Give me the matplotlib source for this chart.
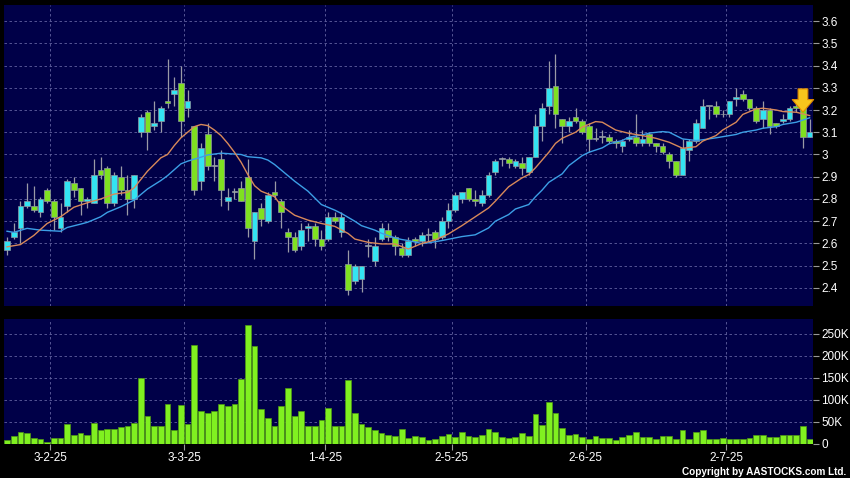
import matplotlib
matplotlib.use("Agg")
import matplotlib.pyplot as plt
import numpy as np

plt.rcParams["font.family"] = ["Liberation Sans", "DejaVu Sans"]

# OHLC per trading day (index 0..120)
opens = [2.57, 2.63, 2.67, 2.77, 2.77, 2.74, 2.84, 2.79, 2.67, 2.77,
         2.87, 2.85, 2.79, 2.78, 2.93, 2.94, 2.78, 2.90, 2.84, 2.80,
         3.10, 3.19, 3.13, 3.15, 3.24, 3.27, 3.32, 3.21, 3.13, 2.88,
         3.09, 2.95, 2.98, 2.79, 2.83, 2.85, 2.90, 2.61, 2.76, 2.70,
         2.83, 2.79, 2.65, 2.63, 2.59, 2.67, 2.68, 2.62, 2.62, 2.72,
         2.65, 2.51, 2.43, 2.44, 2.59, 2.52, 2.62, 2.66, 2.63, 2.58,
         2.55, 2.62, 2.61, 2.64, 2.65, 2.63, 2.70, 2.75, 2.80, 2.85,
         2.80, 2.78, 2.82, 2.92, 2.98, 2.98, 2.95, 2.96, 2.92, 2.99,
         3.13, 3.22, 3.31, 3.16, 3.13, 3.17, 3.15, 3.13, 3.07, 3.08,
         3.08, 3.06, 3.04, 3.07, 3.08, 3.05, 3.09, 3.05, 3.04, 3.00,
         2.97, 2.91, 3.02, 3.06, 3.12, 3.22, 3.22, 3.18, 3.18, 3.25,
         3.27, 3.25, 3.21, 3.16, 3.20, 3.14, 3.15, 3.16, 3.22, 3.21,
         3.08]
highs = [2.63, 2.69, 2.79, 2.87, 2.86, 2.81, 2.85, 2.80, 2.78, 2.89,
         2.90, 2.85, 2.81, 2.98, 2.99, 2.95, 2.92, 2.95, 2.91, 2.91,
         3.18, 3.20, 3.24, 3.22, 3.43, 3.35, 3.40, 3.29, 3.13, 3.05,
         3.14, 2.99, 3.02, 2.85, 2.85, 2.88, 2.98, 2.74, 2.78, 2.83,
         2.88, 2.80, 2.67, 2.65, 2.69, 2.69, 2.69, 2.66, 2.74, 2.74,
         2.74, 2.57, 2.51, 2.50, 2.62, 2.63, 2.69, 2.69, 2.64, 2.60,
         2.63, 2.63, 2.65, 2.67, 2.66, 2.72, 2.78, 2.83, 2.83, 2.85,
         2.84, 2.84, 2.92, 2.98, 2.99, 2.99, 2.98, 2.99, 2.99, 3.18,
         3.23, 3.42, 3.45, 3.16, 3.17, 3.21, 3.16, 3.14, 3.12, 3.11,
         3.09, 3.07, 3.07, 3.11, 3.18, 3.11, 3.10, 3.05, 3.05, 3.01,
         2.97, 3.07, 3.07, 3.16, 3.25, 3.22, 3.24, 3.20, 3.24, 3.30,
         3.29, 3.25, 3.22, 3.24, 3.21, 3.14, 3.18, 3.22, 3.25, 3.22,
         3.16]
lows = [2.55, 2.62, 2.60, 2.76, 2.74, 2.72, 2.78, 2.66, 2.65, 2.74,
        2.81, 2.73, 2.76, 2.78, 2.89, 2.76, 2.77, 2.82, 2.73, 2.76,
        3.08, 3.02, 3.11, 3.10, 3.21, 3.22, 3.08, 3.17, 2.82, 2.84,
        2.93, 2.88, 2.77, 2.75, 2.80, 2.79, 2.63, 2.53, 2.68, 2.69,
        2.80, 2.67, 2.56, 2.56, 2.57, 2.61, 2.59, 2.57, 2.61, 2.69,
        2.63, 2.37, 2.42, 2.38, 2.54, 2.50, 2.61, 2.61, 2.55, 2.54,
        2.54, 2.59, 2.59, 2.61, 2.58, 2.62, 2.67, 2.74, 2.78, 2.79,
        2.77, 2.77, 2.81, 2.91, 2.95, 2.94, 2.94, 2.91, 2.91, 2.99,
        3.06, 3.18, 3.12, 3.05, 3.10, 3.14, 3.09, 3.01, 3.06, 3.05,
        3.05, 3.03, 3.01, 3.06, 3.04, 3.04, 3.04, 3.01, 3.00, 2.94,
        2.90, 2.91, 2.97, 3.05, 3.12, 3.16, 3.17, 3.17, 3.17, 3.22,
        3.24, 3.20, 3.14, 3.12, 3.09, 3.12, 3.14, 3.15, 3.19, 3.03,
        3.08]
closes = [2.61, 2.65, 2.77, 2.79, 2.75, 2.80, 2.79, 2.72, 2.72, 2.88,
          2.84, 2.79, 2.80, 2.91, 2.91, 2.78, 2.91, 2.84, 2.80, 2.91,
          3.17, 3.10, 3.14, 3.21, 3.23, 3.29, 3.15, 3.24, 2.84, 3.03,
          2.95, 2.95, 2.84, 2.81, 2.83, 2.79, 2.67, 2.74, 2.71, 2.82,
          2.82, 2.74, 2.63, 2.57, 2.66, 2.68, 2.62, 2.59, 2.72, 2.70,
          2.72, 2.39, 2.50, 2.50, 2.59, 2.59, 2.67, 2.63, 2.59, 2.55,
          2.61, 2.61, 2.64, 2.64, 2.62, 2.70, 2.75, 2.82, 2.83, 2.80,
          2.79, 2.82, 2.91, 2.97, 2.98, 2.96, 2.97, 2.94, 2.99, 3.13,
          3.21, 3.30, 3.18, 3.13, 3.15, 3.15, 3.10, 3.07, 3.07, 3.08,
          3.06, 3.05, 3.06, 3.08, 3.05, 3.07, 3.05, 3.04, 3.01, 2.97,
          2.91, 3.03, 3.06, 3.14, 3.22, 3.22, 3.18, 3.18, 3.24, 3.26,
          3.25, 3.21, 3.15, 3.20, 3.13, 3.13, 3.16, 3.21, 3.21, 3.08,
          3.10]

# daily volume, thousands of shares
volumes = [10, 19, 27, 25, 13, 12, 4, 14, 14, 46,
           21, 24, 20, 48, 31, 35, 33, 39, 42, 47,
           149, 63, 42, 42, 91, 31, 88, 45, 226, 74,
           71, 74, 92, 87, 90, 147, 270, 223, 79, 58,
           40, 87, 128, 63, 74, 40, 42, 55, 81, 40,
           40, 145, 71, 46, 39, 31, 25, 20, 19, 33,
           13, 19, 16, 10, 11, 18, 22, 17, 27, 19,
           15, 21, 35, 27, 15, 14, 17, 24, 18, 68,
           43, 95, 70, 36, 21, 22, 17, 12, 19, 14,
           14, 8, 17, 20, 27, 17, 16, 11, 18, 18,
           12, 31, 11, 27, 32, 12, 12, 14, 12, 12,
           12, 13, 21, 20, 16, 15, 21, 21, 21, 42,
           11]

# moving averages
ma_short_x = [0, 2, 4, 6, 8, 10, 12, 14, 16, 18, 19, 21, 23, 24, 25, 26, 27,
              28, 29, 30, 31, 32, 33, 34, 35, 36, 37, 38, 39, 40, 41, 43, 45,
              47, 49, 51, 52, 54, 56, 58, 60, 62, 64, 66, 68, 70, 72, 73, 75,
              77, 78, 79, 80, 81, 82, 83, 85, 86, 88, 89, 91, 93, 95, 97, 99,
              101, 103, 104, 106, 107, 109, 110, 112, 113, 115, 116, 118, 120]
ma_short_y = [2.585, 2.595, 2.636, 2.69, 2.72, 2.763, 2.783, 2.80, 2.822, 2.83,
              2.85, 2.925, 2.985, 3.0, 3.04, 3.075, 3.10, 3.125, 3.135, 3.13,
              3.11, 3.085, 3.05, 3.01, 2.965, 2.91, 2.86, 2.835, 2.823, 2.81,
              2.77, 2.727, 2.705, 2.69, 2.677, 2.645, 2.62, 2.605, 2.598,
              2.598, 2.575, 2.60, 2.616, 2.643, 2.68, 2.72, 2.76, 2.79, 2.855,
              2.895, 2.91, 2.94, 2.975, 3.01, 3.05, 3.073, 3.10, 3.123, 3.148,
              3.145, 3.11, 3.095, 3.085, 3.073, 3.055, 3.028, 3.035, 3.06,
              3.085, 3.11, 3.145, 3.18, 3.205, 3.208, 3.20, 3.193, 3.19, 3.175]
ma_long_x = [0, 1, 3, 5, 8, 9, 11, 12, 14, 15, 17, 18, 19, 21, 23, 24, 26, 27,
             29, 30, 32, 33, 35, 36, 38, 39, 40, 41, 43, 45, 46, 47, 49, 50,
             52, 53, 55, 56, 58, 59, 60, 62, 63, 65, 67, 68, 70, 72, 73, 75,
             76, 78, 79, 80, 81, 83, 84, 86, 87, 89, 90, 92, 93, 95, 96, 98,
             99, 100, 101, 103, 104, 106, 107, 109, 110, 112, 113, 115, 116,
             118, 120]
ma_long_y = [2.655, 2.65, 2.668, 2.66, 2.655, 2.672, 2.687, 2.695, 2.72, 2.74,
             2.765, 2.78, 2.795, 2.845, 2.883, 2.905, 2.958, 2.97, 2.988,
             2.998, 3.006, 3.004, 3.0, 2.99, 2.985, 2.975, 2.955, 2.93, 2.88,
             2.835, 2.805, 2.775, 2.75, 2.735, 2.70, 2.68, 2.66, 2.646, 2.625,
             2.618, 2.613, 2.60, 2.603, 2.613, 2.625, 2.631, 2.639, 2.67, 2.70,
             2.73, 2.755, 2.775, 2.81, 2.84, 2.875, 2.913, 2.95, 2.995, 3.01,
             3.03, 3.048, 3.063, 3.078, 3.088, 3.096, 3.103, 3.10, 3.085,
             3.07, 3.063, 3.066, 3.075, 3.08, 3.09, 3.10, 3.11, 3.118, 3.125,
             3.135, 3.145, 3.165]

date_idx = [6, 26, 47, 66, 86, 107]
date_labels = ["3-2-25", "3-3-25", "1-4-25", "2-5-25", "2-6-25", "2-7-25"]
price_ticks = [2.4, 2.5, 2.6, 2.7, 2.8, 2.9, 3.0, 3.1, 3.2, 3.3, 3.4, 3.5, 3.6]
vol_ticks = [0, 50, 100, 150, 200, 250]
signal_idx = 119

BG = "#000000"
PANEL = "#000048"
GRID = "#6262a0"
UP = "#33e4f2"
DOWN = "#7fe021"
FLAT = "#b8c0c8"
WICK = "#9a9aa6"

fig = plt.figure(figsize=(8.5, 4.78), dpi=100, facecolor=BG)
ax = fig.add_axes([4 / 850, 1 - 306 / 478, 809 / 850, 301 / 478])
axv = fig.add_axes([4 / 850, 1 - 444 / 478, 809 / 850, 125 / 478], sharex=ax)

o, h, l, c = map(np.array, (opens, highs, lows, closes))
x = np.arange(len(o))
cols = np.where(c > o, UP, np.where(c < o, DOWN, FLAT))

for a in (ax, axv):
    a.set_facecolor(PANEL)
    for s in a.spines.values():
        s.set_visible(False)
    for gx in date_idx:
        a.axvline(gx + 0.5, color=GRID, lw=0.6, ls=(0, (3, 3)), zorder=0)
    a.yaxis.tick_right()
    a.tick_params(axis="y", colors="#9a9a9a", labelcolor="white",
                  labelsize=8.5, length=4, width=0.8, pad=2)

# price panel
for t in price_ticks:
    ax.axhline(t, color=GRID, lw=0.6, ls=(0, (3, 3)), zorder=0)
ax.vlines(x, l, h, color=WICK, lw=0.9, zorder=2)
body = np.maximum(np.abs(c - o), 0.004)
ax.bar(x, body, bottom=np.minimum(o, c), width=0.85, color=cols,
       edgecolor="#8f98a0", linewidth=0.5, zorder=3)
ax.plot(ma_long_x, ma_long_y, color="#3c9fe6", lw=1.0, zorder=4)
ax.plot(ma_short_x, ma_short_y, color="#d8895a", lw=1.0, zorder=4)

# sell signal marker above the last big down day
ax.annotate("", xy=(signal_idx, h[signal_idx] - 0.03),
            xytext=(signal_idx, h[signal_idx] + 0.075),
            arrowprops=dict(arrowstyle="simple,head_width=1.1,head_length=0.65,tail_width=0.5",
                            mutation_scale=14, fc="#f7c51c", ec="#e08a00", lw=0.8,
                            shrinkA=0, shrinkB=0),
            zorder=6)

ax.set_yticks(price_ticks)
ax.set_yticklabels([f"{t:g}" for t in price_ticks])
ax.set_ylim(2.319, 3.672)
ax.set_xlim(-0.45, 120.5)
ax.tick_params(axis="x", which="both", bottom=False, labelbottom=False)

# volume panel
for t in vol_ticks:
    axv.axhline(t, color=GRID, lw=0.6, ls=(0, (3, 3)), zorder=0)
axv.bar(x, volumes, width=0.86, color="#80f020", edgecolor="#4f9a12",
        linewidth=0.5, zorder=3)
axv.set_yticks(vol_ticks)
axv.set_yticklabels(["0" if v == 0 else f"{v}K" for v in vol_ticks])
axv.set_ylim(0, 284)
axv.set_xticks([d + 0.5 for d in date_idx])
axv.set_xticklabels(date_labels)
axv.tick_params(axis="x", colors="#9a9a9a", labelcolor="white",
                labelsize=8.5, length=4, width=0.8, pad=2)

fig.text(0.996, 0.003, "Copyright by AASTOCKS.com Ltd.", color="white",
         fontsize=7.2, fontweight="bold", ha="right", va="bottom")

fig.savefig("out.png", dpi=100, facecolor=BG)
